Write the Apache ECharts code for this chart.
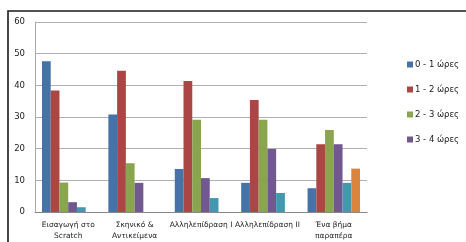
<!DOCTYPE html>
<html>
<head>
<meta charset="utf-8">
<script src="https://cdn.jsdelivr.net/npm/echarts@6/dist/echarts.min.js"></script>
<style>
  html, body { margin: 0; padding: 0; background: #fff; }
  #chart { width: 466px; height: 242px; }
</style>
</head>
<body>
<div id="chart"></div>
<script>
  var categories = ['Εισαγωγή στο\nScratch', 'Σκηνικό &\nΑντικείμενα', 'Αλληλεπίδραση Ι', 'Αλληλεπίδραση ΙΙ', 'Ένα βήμα\nπαραπέρα'];
  var seriesNames = ['0 - 1 ώρες', '1 - 2 ώρες', '2 - 3 ώρες', '3 - 4 ώρες', '4 - 5 ώρες', '5+ ώρες'];
  var hours01 = [47.6, 30.8, 13.6, 9.2, 7.5];
  var hours12 = [38.4, 44.6, 41.4, 35.4, 21.4];
  var hours23 = [9.3, 15.4, 29.1, 29.1, 25.9];
  var hours34 = [3.1, 9.2, 10.7, 19.9, 21.4];
  var hours45 = [1.5, null, 4.4, 6.0, 9.2];
  var hours5p = [null, null, null, null, 13.7];
  var legendNames = seriesNames.slice(0, 4);
  var colors = ['#4572A7', '#AA4643', '#89A54E', '#71588F', '#4198AF', '#DB843D'];

  var allData = [hours01, hours12, hours23, hours34, hours45, hours5p];

  var myChart = echarts.init(document.getElementById('chart'));
  myChart.setOption({
    animation: false,
    color: colors,
    // outer frame, runs off the right and bottom edge like the original
    graphic: [{
      type: 'rect',
      shape: { x: 8, y: 11, width: 500, height: 260 },
      style: { fill: 'none', stroke: '#1a1a1a', lineWidth: 1.6 },
      silent: true
    }],
    grid: {
      left: 35,
      right: 99,
      top: 22,
      bottom: 29,
      containLabel: false
    },
    legend: {
      data: legendNames,
      orient: 'vertical',
      left: 402,
      top: 55,
      itemWidth: 6,
      itemHeight: 6,
      itemGap: 16,
      icon: 'rect',
      textStyle: {
        fontFamily: 'DejaVu Sans',
        fontSize: 8.5,
        color: '#222',
        padding: [0, 0, 0, -3]
      }
    },
    xAxis: {
      type: 'category',
      data: categories,
      axisLine: { lineStyle: { color: '#888', width: 1 } },
      axisTick: { show: false },
      axisLabel: {
        interval: 0,
        fontFamily: 'DejaVu Sans',
        fontSize: 7.5,
        color: '#222',
        lineHeight: 11,
        margin: 8
      }
    },
    yAxis: {
      type: 'value',
      min: 0,
      max: 60,
      interval: 10,
      axisLine: { show: true, lineStyle: { color: '#aaa', width: 1 } },
      axisTick: { show: false },
      splitLine: { lineStyle: { color: '#b0b0b0', width: 1 } },
      axisLabel: {
        fontFamily: 'DejaVu Sans',
        fontSize: 8.5,
        color: '#222',
        margin: 10
      }
    },
    series: seriesNames.map(function (name, i) {
      return {
        name: name,
        type: 'bar',
        barGap: '0%',
        barCategoryGap: '21%',
        data: allData[i]
      };
    })
  });
</script>
</body>
</html>
